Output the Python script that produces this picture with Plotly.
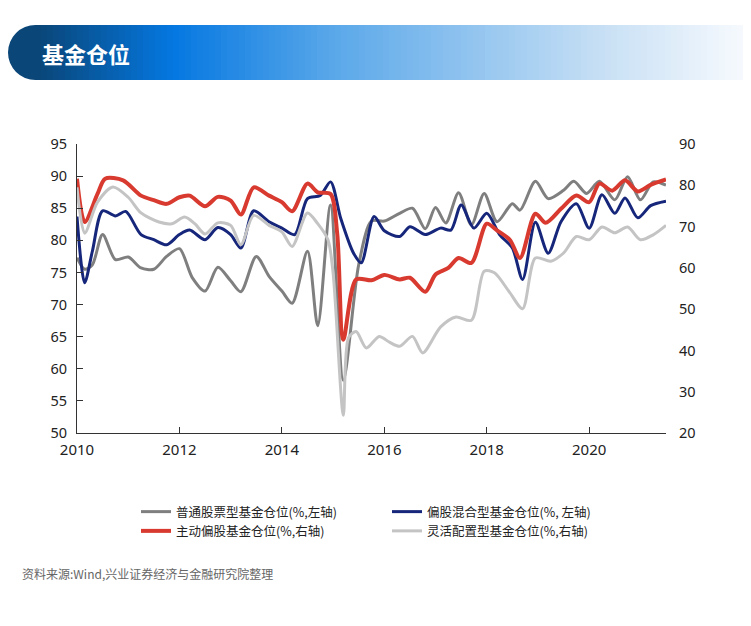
import plotly.graph_objects as go

# 普通股票型 (left axis)
gray_x = [2010.0, 2010.15, 2010.3, 2010.5, 2010.75, 2011.0, 2011.25, 2011.5, 2011.75, 2012.0, 2012.25, 2012.5,
          2012.75, 2013.0, 2013.2, 2013.5, 2013.75, 2014.0, 2014.2, 2014.5, 2014.7, 2014.95, 2015.2, 2015.5,
          2015.75, 2016.0, 2016.3, 2016.55, 2016.8, 2017.0, 2017.2, 2017.45, 2017.7, 2017.95, 2018.2, 2018.5,
          2018.65, 2018.95, 2019.2, 2019.5, 2019.7, 2019.95, 2020.2, 2020.5, 2020.75, 2021.0, 2021.25, 2021.5]
gray_y = [77.3, 75.5, 76.2, 80.9, 77.0, 77.4, 75.7, 75.5, 77.5, 78.7, 74.2, 72.1,
          75.8, 73.7, 72.0, 77.5, 74.4, 72.1, 70.2, 78.3, 66.7, 85.5, 58.2, 76.2,
          83.0, 83.0, 84.2, 85.0, 81.8, 85.1, 82.7, 87.4, 82.4, 87.3, 82.9, 85.7,
          84.7, 89.2, 86.5, 87.8, 89.2, 87.3, 89.2, 86.3, 89.9, 86.3, 89.1, 88.6]

# 偏股混合型 (left axis)
blue_x = [2010.0, 2010.15, 2010.3, 2010.5, 2010.75, 2010.95, 2011.25, 2011.5, 2011.75, 2012.0, 2012.2, 2012.5,
          2012.75, 2013.0, 2013.2, 2013.45, 2013.75, 2014.0, 2014.25, 2014.5, 2014.75, 2014.95, 2015.15, 2015.4,
          2015.55, 2015.8, 2016.0, 2016.3, 2016.5, 2016.8, 2017.1, 2017.3, 2017.5, 2017.75, 2018.0, 2018.25,
          2018.5, 2018.7, 2018.95, 2019.2, 2019.45, 2019.75, 2020.0, 2020.25, 2020.5, 2020.7, 2020.95, 2021.2, 2021.5]
blue_y = [83.7, 73.4, 78.3, 84.6, 83.8, 84.5, 80.9, 80.1, 79.3, 80.9, 81.6, 80.1,
          82.0, 80.9, 78.8, 84.6, 82.9, 81.9, 80.9, 86.5, 87.0, 89.1, 83.4, 78.0,
          76.5, 83.7, 81.5, 80.6, 82.1, 80.9, 81.9, 81.6, 85.5, 81.9, 84.2, 80.9,
          78.8, 73.9, 82.8, 78.0, 82.9, 85.7, 81.9, 87.1, 84.2, 86.6, 83.5, 85.4, 86.1]

# 主动偏股 (right axis)
red_x = [2010.0, 2010.15, 2010.4, 2010.55, 2010.9, 2011.25, 2011.5, 2011.75, 2012.0, 2012.2, 2012.5, 2012.75,
         2013.0, 2013.2, 2013.45, 2013.75, 2014.0, 2014.2, 2014.5, 2014.7, 2014.95, 2015.08, 2015.2, 2015.45,
         2015.75, 2016.0, 2016.3, 2016.5, 2016.8, 2017.0, 2017.25, 2017.45, 2017.7, 2018.0, 2018.2, 2018.45,
         2018.65, 2018.95, 2019.15, 2019.45, 2019.75, 2020.0, 2020.2, 2020.45, 2020.7, 2020.95, 2021.2, 2021.5]
red_y = [81.6, 71.1, 77.9, 81.6, 81.2, 77.5, 76.4, 75.5, 77.1, 77.5, 74.9, 77.2,
         76.3, 72.9, 79.5, 77.5, 75.9, 73.7, 80.4, 78.3, 77.9, 68.4, 42.6, 57.2,
         57.0, 58.3, 57.2, 57.6, 54.2, 58.4, 60.0, 62.4, 61.2, 70.7, 69.1, 66.8,
         62.4, 73.1, 70.9, 74.3, 77.5, 75.9, 80.4, 78.7, 81.2, 78.5, 80.1, 81.4]

# 灵活配置型 (right axis)
lgray_x = [2010.0, 2010.15, 2010.4, 2010.7, 2011.0, 2011.25, 2011.6, 2011.85, 2012.1, 2012.3, 2012.5, 2012.75,
           2013.0, 2013.2, 2013.45, 2013.75, 2014.0, 2014.2, 2014.5, 2014.7, 2014.9, 2015.0, 2015.2, 2015.3,
           2015.45, 2015.65, 2015.9, 2016.1, 2016.3, 2016.55, 2016.75, 2017.1, 2017.4, 2017.7, 2017.95, 2018.15,
           2018.45, 2018.7, 2018.95, 2019.25, 2019.5, 2019.75, 2020.0, 2020.25, 2020.5, 2020.75, 2021.0, 2021.25, 2021.5]
lgray_y = [79.5, 68.4, 75.9, 79.6, 77.1, 73.3, 71.1, 70.7, 72.3, 70.7, 68.2, 70.9,
           70.3, 65.6, 72.7, 70.3, 68.7, 65.2, 73.3, 70.7, 66.8, 58.8, 24.3, 43.0,
           44.6, 40.6, 43.4, 42.0, 41.0, 43.4, 39.4, 45.7, 48.1, 47.3, 59.2, 58.8,
           54.0, 50.1, 62.4, 61.6, 63.6, 67.6, 66.8, 69.9, 68.5, 69.9, 66.8, 68.0, 70.3]

fig = go.Figure()
fig.add_trace(go.Scatter(x=gray_x, y=gray_y, name="普通股票型基金仓位(%,左轴)", mode="lines",
                         line=dict(color="#7f7f7f", width=3, shape="spline", smoothing=0.8)))
fig.add_trace(go.Scatter(x=blue_x, y=blue_y, name="偏股混合型基金仓位(%, 左轴)", mode="lines",
                         line=dict(color="#16267a", width=3, shape="spline", smoothing=0.8)))
fig.add_trace(go.Scatter(x=red_x, y=red_y, name="主动偏股基金仓位(%,右轴)", mode="lines", yaxis="y2",
                         line=dict(color="#d93a2f", width=4, shape="spline", smoothing=0.8)))
fig.add_trace(go.Scatter(x=lgray_x, y=lgray_y, name="灵活配置型基金仓位(%,右轴)", mode="lines", yaxis="y2",
                         line=dict(color="#c4c4c4", width=3, shape="spline", smoothing=0.8)))

# plot area in screenshot pixels: x 77..666, y 144..433 (page body adds 8px offset)
def px(x):
    return (x - 77) / 589

def py(y):
    return (433 - y) / 289

# gradient header banner
stops = [(35, (10, 70, 120)), (170, (5, 120, 225)), (330, (90, 168, 234)),
         (600, (200, 224, 245)), (751, (250, 252, 255))]
shapes = [dict(type="circle", xref="paper", yref="paper", x0=px(8), x1=px(63), y0=py(80), y1=py(25),
               fillcolor="rgb(10,70,120)", line_width=0, layer="below")]
step = 6
for xs in range(35, 751, step):
    for (a, ca), (b, cb) in zip(stops[:-1], stops[1:]):
        if a <= xs <= b:
            t = (xs - a) / (b - a)
            c = [int(ca[k] + (cb[k] - ca[k]) * t) for k in range(3)]
            break
    shapes.append(dict(type="rect", xref="paper", yref="paper", x0=px(xs), x1=px(xs + step + 0.5),
                       y0=py(80), y1=py(25), fillcolor=f"rgb({c[0]},{c[1]},{c[2]})", line_width=0,
                       layer="below"))

fig.update_layout(
    width=751, height=626,
    paper_bgcolor="white", plot_bgcolor="white",
    font=dict(family="Noto Sans CJK SC", size=13, color="#222"),
    margin=dict(l=69, r=93, t=136, b=201, autoexpand=False),
    shapes=shapes,
    showlegend=True,
    legend=dict(orientation="h", x=px(136), y=py(497), xanchor="left", yanchor="top",
                entrywidth=206, font=dict(size=12.5), tracegroupgap=0),
    xaxis=dict(range=[2010, 2021.5], tickvals=[2010, 2012, 2014, 2016, 2018, 2020],
               showline=True, linecolor="#333", ticks="inside", ticklen=6, tickcolor="#333",
               showgrid=False, zeroline=False, tickfont=dict(size=15, family="Noto Sans"), automargin=False,
               ticklabelstandoff=3),
    yaxis=dict(range=[50, 95], dtick=5, showline=True, linecolor="#333", ticks="inside", ticklen=6,
               tickcolor="#333", showgrid=False, zeroline=False, tickfont=dict(size=14.5, family="Noto Sans"),
               automargin=False, ticklabelstandoff=6),
    yaxis2=dict(range=[20, 90], dtick=10, overlaying="y", side="right", showline=False, showgrid=False,
                zeroline=False, tickfont=dict(size=14.5, family="Noto Sans"), ticklabelstandoff=12,
                automargin=False),
    annotations=[
        dict(text="<b>基金仓位</b>", xref="paper", yref="paper", x=px(40), y=py(53), xanchor="left",
             yanchor="middle", showarrow=False, font=dict(size=22, color="white")),
        dict(text="资料来源:Wind,兴业证券经济与金融研究院整理", xref="paper", yref="paper", x=px(20), y=py(573),
             xanchor="left", yanchor="middle", showarrow=False, font=dict(size=12, color="#666")),
    ],
)
fig.write_html("out.html")
